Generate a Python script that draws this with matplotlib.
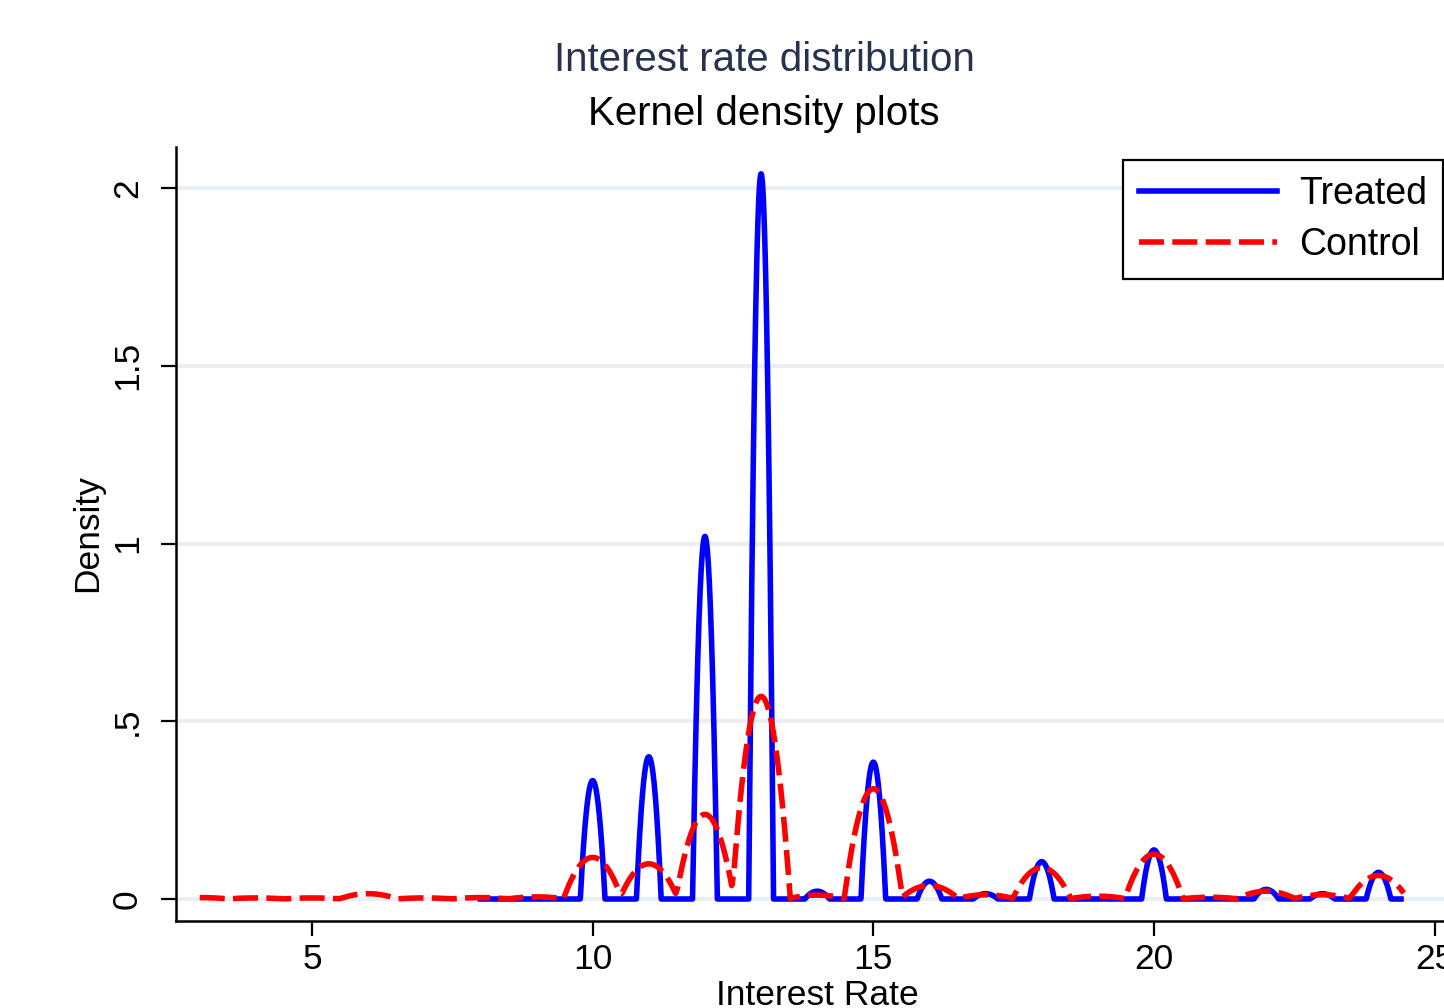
import numpy as np
import matplotlib
matplotlib.use("Agg")
import matplotlib.pyplot as plt

plt.rcParams['font.family'] = ['Liberation Sans', 'DejaVu Sans']

# ---- data ----
rates = [3, 4, 5, 6, 7, 8, 9, 10, 11, 12, 13, 14, 15, 16, 17, 18, 19, 20, 21, 22, 23, 24]
# peak density heights at each interest rate
treated_peak = [0, 0, 0, 0, 0, 0, 0, 0.333, 0.40, 1.02, 2.04, 0.022, 0.385, 0.05, 0.015,
                0.105, 0, 0.138, 0, 0.027, 0.015, 0.075]
control_peak = [0.004, 0.003, 0.003, 0.015, 0.003, 0.004, 0.006, 0.117, 0.099, 0.238, 0.57,
                0.011, 0.31, 0.038, 0.012, 0.088, 0.008, 0.126, 0.005, 0.022, 0.012, 0.066]
treated_range = (8.0, 24.4)
control_range = (3.0, 24.45)
xticks = [5, 10, 15, 20, 25]
yticks = [0, 0.5, 1, 1.5, 2]
yticklabels = ['0', '.5', '1', '1.5', '2']


def kde_curve(centers, heights, lo, hi, hw):
    x = np.linspace(lo, hi, 3000)
    y = np.zeros_like(x)
    for c, h in zip(centers, heights):
        u = (x - c) / hw
        y += h * np.clip(1 - u ** 2, 0, None)
    return x, y


W, H = 1444, 1008
fig = plt.figure(figsize=(W / 100, H / 100), dpi=100)
ax = fig.add_axes([176 / W, (H - 921) / H, (1460 - 176) / W, (921 - 147) / H])

ypx = 355.5
xpx = (1154 - 312) / 15
ax.set_ylim(-(921 - 899) / ypx, (899 - 147) / ypx)
ax.set_xlim(5 - (312 - 176) / xpx, 5 + (1460 - 312) / xpx)

for yv in yticks:
    ax.axhline(yv, color='#e9eff2', lw=3, zorder=0)

xt, yt = kde_curve(rates, treated_peak, *treated_range, hw=0.22)
xc, yc = kde_curve(rates, control_peak, *control_range, hw=0.52)
ax.plot(xt, yt, color='#0000ff', lw=4, solid_joinstyle='round', label='Treated', zorder=3)
ax.plot(xc, yc, color='#ff0000', lw=4, linestyle=(0, (4.5, 1.5)), label='Control', zorder=4)

for s in ['top', 'right']:
    ax.spines[s].set_visible(False)
for s in ['left', 'bottom']:
    ax.spines[s].set_linewidth(1.8)
    ax.spines[s].set_color('black')

ax.set_xticks(xticks)
ax.set_xticklabels([str(v) for v in xticks])
ax.set_yticks(yticks)
ax.set_yticklabels(yticklabels, rotation=90, va='center')
ax.tick_params(axis='both', length=11, width=1.6, labelsize=25.5, colors='black')
ax.tick_params(axis='x', pad=5)
ax.tick_params(axis='y', pad=12)

fig.text(88 / W, 1 - 533 / H, 'Density', rotation=90, ha='center', va='center', fontsize=25.5)
fig.text(817 / W, 1 - 979 / H, 'Interest Rate', ha='center', va='top', fontsize=25.5)
fig.text(764 / W, 1 - 60 / H, 'Interest rate distribution', ha='center', va='center',
         fontsize=29, color='#26324f')
fig.text(764 / W, 1 - 114 / H, 'Kernel density plots', ha='center', va='center',
         fontsize=29, color='black')

leg = fig.legend(loc='upper right', bbox_to_anchor=(1443 / W, 1 - 160 / H),
                 bbox_transform=fig.transFigure, fontsize=27, handlelength=3.68,
                 handletextpad=0.6, borderpad=0.42, labelspacing=0.4,
                 borderaxespad=0, fancybox=False, framealpha=1, edgecolor='black')
leg.get_frame().set_linewidth(1.6)

fig.savefig('out.png', dpi=100)
